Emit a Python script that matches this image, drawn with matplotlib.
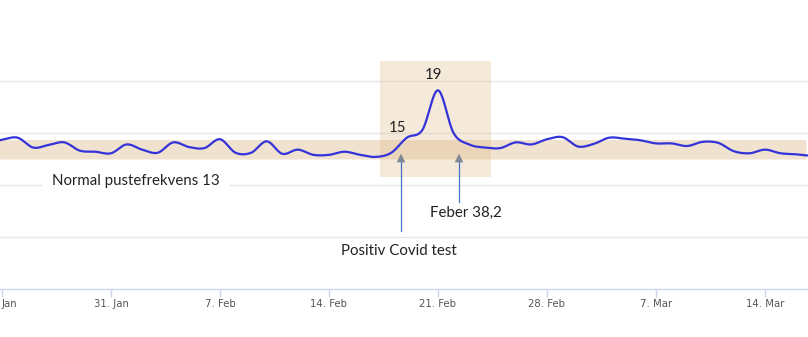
import numpy as np
import matplotlib
matplotlib.use("Agg")
import matplotlib.pyplot as plt
import matplotlib.dates as mdates
from matplotlib.patches import FancyBboxPatch, Rectangle
import datetime as dt

# ---- data ----
start_date = dt.date(2021, 1, 23)
resp_rate = [14.0, 14.35, 14.55, 13.6, 13.85, 14.1, 13.3, 13.2, 13.05, 13.9,
             13.4, 13.1, 14.1, 13.65, 13.55, 14.4, 13.1, 13.1, 14.2, 13.0,
             13.4, 12.9, 12.9, 13.2, 12.9, 12.7, 13.1, 14.55, 15.3, 19.1,
             15.0, 13.9, 13.6, 13.55, 14.1, 13.9, 14.4, 14.6, 13.7, 13.95,
             14.55, 14.45, 14.3, 14.0, 14.0, 13.75, 14.15, 14.05, 13.25, 13.05,
             13.4, 13.05, 12.95, 12.8, 12.7]
dates = [start_date + dt.timedelta(days=i) for i in range(len(resp_rate))]
tick_dates = [dt.date(2021, 1, 24) + dt.timedelta(days=7 * i) for i in range(8)]
tick_labels = ["Jan"] + [f"{d.day}. {d.strftime('%b')}" for d in tick_dates[1:]]
normal_band = (12.45, 14.33)
focus_range = (10.8, 21.95)
label_15 = "15"
label_19 = "19"
normal_text = "Normal pustefrekvens 13"
fever_text = "Feber 38,2"
covid_text = "Positiv Covid test"

# ---- smooth (Catmull-Rom) rendering of daily points ----
x = mdates.date2num(dates)
y = np.array(resp_rate)
xs, ys = [], []
for i in range(len(x) - 1):
    p0 = y[i - 1] if i > 0 else y[i]
    p3 = y[i + 2] if i + 2 < len(y) else y[i + 1]
    m1 = (y[i + 1] - p0) / 2
    m2 = (p3 - y[i]) / 2
    t = np.linspace(0, 1, 20, endpoint=False)
    h00 = 2 * t**3 - 3 * t**2 + 1
    h10 = t**3 - 2 * t**2 + t
    h01 = -2 * t**3 + 3 * t**2
    h11 = t**3 - t**2
    xs.append(x[i] + t * (x[i + 1] - x[i]))
    ys.append(h00 * y[i] + h10 * m1 + h01 * y[i + 1] + h11 * m2)
xs.append([x[-1]]); ys.append([y[-1]])
xs = np.concatenate(xs); ys = np.concatenate(ys)

W, H = 808, 337
fig = plt.figure(figsize=(W / 100, H / 100), dpi=100)
axis_px = 289
ax = fig.add_axes([0, (H - axis_px) / H, 1, axis_px / H])
px_per_day = 15.571
base = mdates.date2num(dt.date(2021, 1, 24))
x0 = base - 2 / px_per_day
ax.set_xlim(x0, x0 + W / px_per_day)
ax.set_ylim(0, axis_px / 10.4)

def px2x(px):
    return base + (px - 2) / px_per_day

def py2y(py):
    return (289 - py) / 10.4

for s in ["top", "left", "right"]:
    ax.spines[s].set_visible(False)
ax.spines["bottom"].set_color("#ccd6eb")
ax.spines["bottom"].set_linewidth(1.0)
ax.set_yticks([5, 10, 15, 20])
ax.yaxis.grid(True, color="#e6e6e6", linewidth=1.0)
ax.tick_params(axis="y", left=False, labelleft=False)
ax.set_axisbelow(True)

ax.set_xticks(mdates.date2num(tick_dates))
ax.set_xticklabels(tick_labels)
ax.tick_params(axis="x", colors="#ccd6eb", length=6, width=1, labelcolor="#555555",
               labelsize=7.3, pad=1)
first = ax.get_xticklabels()[0]
first.set_horizontalalignment("left")
first.set_x(px2x(4))

# normal band
ax.add_patch(FancyBboxPatch((ax.get_xlim()[0], normal_band[0]),
                            ax.get_xlim()[1] - ax.get_xlim()[0] - 0.1,
                            normal_band[1] - normal_band[0],
                            boxstyle="round,pad=0,rounding_size=0.1",
                            facecolor="#deb887", alpha=0.4, edgecolor="none", zorder=1))
# focus box
fx0, fx1 = px2x(380), px2x(491)
ax.add_patch(Rectangle((fx0, focus_range[0]), fx1 - fx0, focus_range[1] - focus_range[0],
                       facecolor="#deb887", alpha=0.3, edgecolor="none", zorder=1.5))

ax.plot(xs, ys, color="#3333d9", linewidth=1.6, zorder=3, solid_capstyle="round")

tfont = dict(family=["Lato", "DejaVu Sans"], fontsize=10.8, color="#222222")
ax.text(px2x(398), py2y(128), label_15, ha="center", va="center", **tfont)
ax.text(px2x(434), py2y(75), label_19, ha="center", va="center", **tfont)
ax.text(px2x(136), py2y(181), normal_text, ha="center", va="center", zorder=4,
        bbox=dict(facecolor="white", edgecolor="none", boxstyle="square,pad=0.6"), **tfont)

def arrow(px, y_bottom):
    xx = px2x(px)
    ax.plot([xx, xx], [py2y(158), py2y(y_bottom)], color="#4472c4", linewidth=0.9, zorder=4)
    ax.annotate("", xy=(xx, py2y(151)), xytext=(xx, py2y(159)),
                arrowprops=dict(arrowstyle="-|>,head_length=0.6,head_width=0.3",
                                color="#7f8896", lw=0.1), zorder=5)

arrow(401, 231)
arrow(459, 202)
ax.text(px2x(466), py2y(213), fever_text, ha="center", va="center", **tfont)
ax.text(px2x(399), py2y(251), covid_text, ha="center", va="center", **tfont)

fig.savefig("out.png", dpi=100)
